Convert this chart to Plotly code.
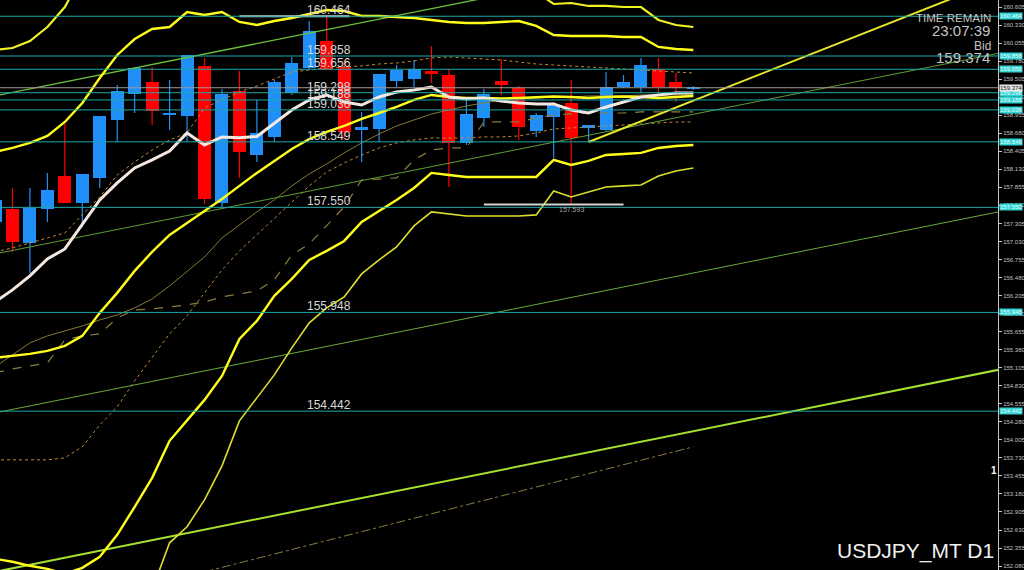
import plotly.graph_objects as go

# ---------------- data ----------------
candle_idx = list(range(41))
opens = [157.328, 157.526, 157.008, 157.526, 158.029, 157.618, 157.999, 158.883, 159.279, 159.462,
         158.959, 158.944, 159.706, 157.618, 159.325, 158.349, 158.624, 159.294, 159.675, 160.087,
         159.691, 158.730, 158.746, 159.477, 159.508, 159.630, 159.569, 158.532, 158.913, 159.477,
         159.371, 158.715, 158.928, 159.142, 158.761, 158.730, 159.386, 159.386, 159.660, 159.462,
         159.355]
highs = [157.739, 157.846, 157.846, 158.075, 158.822, 158.060, 158.944, 159.416, 159.691, 159.691,
         159.492, 159.874, 159.828, 159.355, 159.630, 159.188, 159.492, 159.843, 160.392, 160.464,
         159.797, 159.005, 159.584, 159.721, 159.797, 160.011, 159.660, 159.218, 159.355, 159.813,
         159.401, 158.989, 159.157, 159.492, 158.806, 159.614, 159.569, 159.828, 159.828, 159.599,
         159.401]
lows = [157.237, 156.871, 156.550, 157.328, 157.618, 157.252, 157.846, 158.547, 158.989, 158.806,
        158.730, 158.547, 157.600, 157.550, 157.999, 158.242, 158.547, 159.264, 159.660, 159.645,
        158.578, 158.242, 158.547, 159.386, 159.386, 159.447, 157.861, 158.502, 158.776, 159.264,
        158.578, 158.624, 158.303, 157.593, 158.547, 158.715, 159.371, 159.294, 159.294, 159.157,
        159.340]
closes = [157.663, 157.023, 157.541, 157.816, 157.618, 158.060, 158.944, 159.325, 159.675, 159.020,
          158.989, 159.874, 157.679, 159.279, 158.395, 158.685, 159.462, 159.752, 160.239, 159.645,
          158.700, 158.776, 159.584, 159.645, 159.660, 159.584, 158.532, 158.974, 159.279, 159.416,
          158.776, 158.959, 159.111, 158.608, 158.806, 159.386, 159.462, 159.721, 159.386, 159.371,
          159.374]

ma_fast = [156.108, 156.291, 156.505, 156.764, 156.916, 157.282, 157.663, 157.922, 158.151, 158.273,
           158.410, 158.685, 158.502, 158.624, 158.610, 158.630, 158.837, 159.035, 159.188, 159.264,
           159.157, 159.111, 159.233, 159.310, 159.340, 159.386, 159.233, 159.203, 159.218, 159.172,
           159.142, 159.127, 159.127, 159.035, 158.989, 159.081, 159.157, 159.233, 159.264, 159.294,
           159.294]
bb_mid = [155.255, 155.285, 155.316, 155.361, 155.438, 155.590, 155.941, 156.246, 156.581, 156.871,
          157.130, 157.313, 157.496, 157.679, 157.877, 158.075, 158.258, 158.441, 158.593, 158.700,
          158.791, 158.898, 158.989, 159.081, 159.188, 159.264, 159.233, 159.218, 159.218, 159.210,
          159.218, 159.233, 159.240, 159.233, 159.218, 159.233, 159.240, 159.233, 159.218, 159.233,
          159.249]
bb_up1 = [158.395, 158.456, 158.532, 158.639, 158.852, 159.142, 159.523, 159.874, 160.117, 160.270,
          160.300, 160.529, 160.483, 160.529, 160.377, 160.331, 160.392, 160.438, 160.499, 160.560,
          160.544, 160.468, 160.468, 160.453, 160.438, 160.407, 160.377, 160.361, 160.361, 160.377,
          160.392, 160.316, 160.178, 160.163, 160.163, 160.163, 160.148, 160.148, 159.996, 159.965,
          159.950]
bb_up2 = ([159.950, 159.980, 160.087, 160.300, 160.605, 161.093] + [None] * 25 +
          [160.834, 160.651, 160.666, 160.621, 160.621, 160.605, 160.605, 160.407, 160.331, 160.300])
bb_dn1 = [152.191, 152.145, 152.084, 152.038, 151.962, 152.053, 152.221, 152.557, 152.983, 153.425,
          153.990, 154.294, 154.614, 154.980, 155.544, 155.819, 156.200, 156.459, 156.749, 156.886,
          157.038, 157.328, 157.496, 157.663, 157.846, 158.075, 158.044, 158.014, 158.014, 158.014,
          158.014, 158.014, 158.273, 158.197, 158.258, 158.349, 158.364, 158.380, 158.456, 158.486,
          158.502]
bb_dn2 = ([None] * 9 +
          [151.718, 152.435, 152.679, 153.090, 153.608, 154.294, 154.645, 154.995, 155.407, 155.788,
           156.017, 156.185, 156.535, 156.749, 156.947, 157.267, 157.480, 157.450, 157.419, 157.419,
           157.419, 157.419, 157.435, 157.800, 157.709, 157.785, 157.861, 157.877, 157.892, 158.029,
           158.105, 158.151])
ma_slow = [155.117, 155.300, 155.483, 155.590, 155.666, 155.742, 155.834, 155.910, 156.017, 156.154,
           156.352, 156.566, 156.794, 157.084, 157.282, 157.480, 157.663, 157.877, 158.060, 158.212,
           158.380, 158.532, 158.669, 158.791, 158.883, 158.974, 159.035, 159.096, 159.142, 159.188,
           159.203, 159.218, 159.233, 159.233, 159.249, 159.249, 159.249, 159.264, 159.264, 159.264,
           159.264]
base_line = [155.026, 155.087, 155.133, 155.178, 155.529, 155.590, 155.621, 155.864, 155.986, 156.002,
             156.032, 156.063, 156.108, 156.185, 156.230, 156.276, 156.444, 156.825, 156.992, 157.282,
             157.556, 157.968, 157.983, 157.999, 158.273, 158.425, 158.456, 158.456, 158.852, 158.852,
             158.852, 158.913, 158.959, 158.974, 158.989, 158.989, 158.989, 159.005, 159.005, 159.005,
             159.005]
env_low = [153.700, 153.700, 153.700, 153.700, 153.730, 153.898, 154.233, 154.508, 154.904, 155.270,
           155.621, 155.895, 156.246, 156.596, 156.886, 157.130, 157.389, 157.633, 157.877, 158.090,
           158.227, 158.349, 158.456, 158.532, 158.578, 158.608, 158.608, 158.608, 158.624, 158.624,
           158.639, 158.685, 158.746, 158.761, 158.776, 158.791, 158.806, 158.822, 158.837, 158.852,
           158.852]
env_high = [156.871, 156.932, 157.008, 157.084, 157.160, 157.435, 157.709, 158.044, 158.242, 158.425,
            158.578, 158.685, 159.066, 159.188, 159.310, 159.401, 159.508, 159.614, 159.645, 159.675,
            159.691, 159.706, 159.736, 159.752, 159.782, 159.828, 159.843, 159.828, 159.813, 159.797,
            159.767, 159.736, 159.721, 159.706, 159.691, 159.675, 159.660, 159.645, 159.630, 159.614,
            159.599]

# trend lines: (index, price) anchor pairs
trend_g1_x, trend_g1_y = [0, 40], [159.249, 161.378]
trend_g2_x, trend_g2_y = [0, 58], [156.840, 159.927]
trend_g3_x, trend_g3_y = [0, 58], [154.416, 157.509]
trend_g4_x, trend_g4_y = [0, 58], [151.992, 155.101]
trend_y1_x, trend_y1_y = [34, 58], [158.547, 161.070]
trend_dd_x, trend_dd_y = [12, 40], [151.992, 153.898]

levels = [160.464, 159.858, 159.656, 159.298, 159.188, 159.036, 158.549, 157.550, 155.948, 154.442]
bid = 159.374
hi_mark_x, hi_mark_price = [14.0, 20.3], 160.464
lo_mark_x, lo_mark_price = [28.0, 36.0], 157.593

ytick_vals = [160.605, 160.330, 160.055, 159.780, 159.505, 159.230, 158.955, 158.680, 158.405,
              158.130, 157.855, 157.580, 157.305, 157.030, 156.755, 156.480, 156.205, 155.930,
              155.655, 155.380, 155.105, 154.830, 154.555, 154.280, 154.005, 153.730, 153.455,
              153.180, 152.905, 152.630, 152.355, 152.080]

# ---------------- figure ----------------
BLUE = '#2090f8'
RED = '#ff0000'
fig = go.Figure()

up = [i for i in candle_idx if closes[i] >= opens[i]]
dn = [i for i in candle_idx if closes[i] < opens[i]]
MIN_BODY = 0.03

for ids, col in ((up, BLUE), (dn, RED)):
    wx, wy = [], []
    for i in ids:
        wx += [i, i, None]
        wy += [lows[i], highs[i], None]
    fig.add_trace(go.Scatter(x=wx, y=wy, mode='lines', line=dict(color=col, width=1.2),
                             hoverinfo='skip'))
    fig.add_trace(go.Bar(x=ids,
                         base=[min(opens[i], closes[i]) for i in ids],
                         y=[max(abs(closes[i] - opens[i]), MIN_BODY) for i in ids],
                         width=0.745, marker=dict(color=col, line=dict(width=0)),
                         hoverinfo='skip'))


def line(x, y, color, width, dash='solid'):
    fig.add_trace(go.Scatter(x=x, y=y, mode='lines', line=dict(color=color, width=width, dash=dash),
                             connectgaps=False, hoverinfo='skip'))


line(candle_idx, env_high, '#c08a3a', 1, 'dot')
line(candle_idx, env_low, '#c08a3a', 1, 'dot')
line(candle_idx, base_line, '#8c7c3c', 1.2, 'dash')
line(candle_idx, ma_slow, '#8a7a36', 1)
line(trend_dd_x, trend_dd_y, '#8c7c3c', 1, 'dashdot')
line(trend_g1_x, trend_g1_y, '#6cc23a', 1.3)
line(trend_g2_x, trend_g2_y, '#5f9e32', 1)
line(trend_g3_x, trend_g3_y, '#68aa38', 1)
line(trend_g4_x, trend_g4_y, '#a6e030', 2)
line(trend_y1_x, trend_y1_y, '#e6e62a', 2)
line(candle_idx, bb_dn2, '#dede30', 1.6)
line(candle_idx, bb_up2, '#f2f224', 2.2)
line(candle_idx, bb_dn1, '#ffff1a', 2.4)
line(candle_idx, bb_up1, '#ffff1a', 2.4)
line(candle_idx, bb_mid, '#ffff1a', 2.4)
line(candle_idx, ma_fast, '#f6e8e0', 3)

# high / low markers
line(hi_mark_x, [hi_mark_price] * 2, '#d4d4d4', 2)
line(lo_mark_x, [lo_mark_price] * 2, '#d4d4d4', 2)

shapes = []
for lv in levels:
    shapes.append(dict(type='line', xref='paper', x0=0, x1=1, yref='y', y0=lv, y1=lv,
                       line=dict(color='#1fa8a8', width=1), layer='above'))
shapes.append(dict(type='line', xref='paper', x0=0, x1=1, yref='y', y0=bid, y1=bid,
                   line=dict(color='#9a9a9a', width=1), layer='above'))

ann = []
FONT = 'Liberation Sans, Arial, sans-serif'
for lv in levels:
    ann.append(dict(x=17.75, y=lv, xref='x', yref='y', text=f'{lv:.3f}', showarrow=False,
                    xanchor='left', yanchor='middle', yshift=6,
                    font=dict(family=FONT, size=12, color='#d8d8d8')))
    ann.append(dict(x=1, y=lv, xref='paper', yref='y', text=f'{lv:.3f}', showarrow=False,
                    xanchor='left', yanchor='middle', xshift=1, borderpad=0,
                    bgcolor='#30d2d2', font=dict(family=FONT, size=6, color='#e8ffff')))
ann.append(dict(x=1, y=bid, xref='paper', yref='y', text=f'{bid:.3f}', showarrow=False,
                xanchor='left', yanchor='middle', xshift=1, borderpad=0,
                bgcolor='#e6e6e6', font=dict(family=FONT, size=6, color='#202020')))
ann.append(dict(x=33, y=lo_mark_price, xref='x', yref='y', text=f'{lo_mark_price:.3f}',
                showarrow=False, xanchor='center', yanchor='middle', yshift=-5,
                font=dict(family=FONT, size=7, color='#a8a8a8')))

for txt, ypx, size, xs in (('TIME REMAIN', 18, 11.5, -5), ('23:07:39', 31, 15, -6),
                           ('Bid', 46, 12, -5), ('159.374', 58, 15, -6)):
    ann.append(dict(x=1, y=1 - ypx / 570, xref='paper', yref='paper', text=txt, showarrow=False,
                    xanchor='right', yanchor='middle', xshift=xs,
                    font=dict(family=FONT, size=size, color='#c4c4c4')))
ann.append(dict(x=1, y=1 - 551 / 570, xref='paper', yref='paper', text='USDJPY_MT D1',
                showarrow=False, xanchor='right', yanchor='middle', xshift=-2,
                font=dict(family=FONT, size=21, color='#f0f0f0')))
ann.append(dict(x=1, y=1 - 470 / 570, xref='paper', yref='paper', text='<b>1</b>',
                showarrow=False, xanchor='right', yanchor='middle', xshift=1,
                font=dict(family=FONT, size=10, color='#ffffff')))

fig.update_layout(
    width=1024, height=570, margin=dict(l=0, r=26, t=0, b=0, autoexpand=False),
    paper_bgcolor='#000000', plot_bgcolor='#000000',
    showlegend=False, barmode='overlay', bargap=0, hovermode=False,
    shapes=shapes, annotations=ann,
)
fig.update_xaxes(range=[0.286, 57.45], showgrid=False, zeroline=False, showticklabels=False,
                 ticks='', showline=True, linecolor='#7a7a7a', linewidth=1)
fig.update_yaxes(range=[152.02, 160.712], side='right', tickvals=ytick_vals, tickformat='.3f',
                 tickfont=dict(family=FONT, size=6, color='#c0c0c0'), showgrid=False,
                 zeroline=False, showline=True, linecolor='#c8c8c8', linewidth=1,
                 ticks='outside', ticklen=3, tickcolor='#c8c8c8', automargin=False)

fig.write_html('out.html', config={'displayModeBar': False},
               post_script="document.body.style.margin='0';document.body.style.background='#000';")
